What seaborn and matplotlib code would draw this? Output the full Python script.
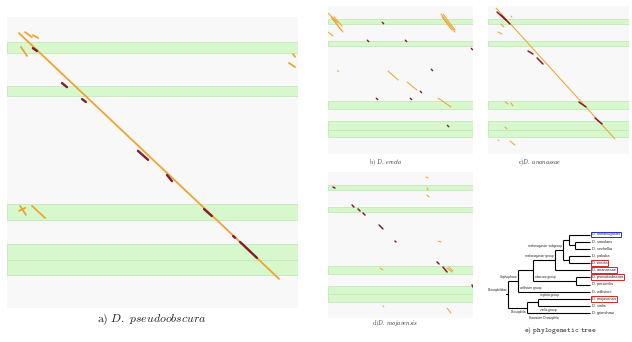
import matplotlib
matplotlib.use("Agg")
import matplotlib.pyplot as plt
import pandas as pd
import seaborn as sns

# ---------------------------------------------------------------------------
# Data
# ---------------------------------------------------------------------------
# Highlighted regions on the D. melanogaster axis (% of sequence length)
bands = [(8.6, 12.4), (23.7, 27.1), (64.3, 69.8), (78.0, 83.5), (83.5, 88.7)]

# Alignment hits (x0, y0, x1, y1) in % of query / reference length
a_matches = [
    (4.1, 5.5, 93.5, 90.0),
    (6.2, 5.2, 8.6, 6.9),
    (8.9, 6.2, 10.7, 7.2),
    (4.8, 10.3, 6.9, 13.4),
    (98.3, 12.7, 99.0, 13.7),
    (96.9, 15.8, 99.0, 17.2),
    (4.5, 64.9, 6.5, 68.0),
    (4.2, 66.6, 6.3, 65.6),
    (8.6, 64.9, 13.1, 69.1),
]
a_anchors = [
    (8.9, 10.7, 10.3, 11.7),
    (18.9, 22.7, 20.6, 24.1),
    (25.8, 28.2, 27.1, 29.2),
    (45.0, 46.0, 48.5, 49.1),
    (55.0, 54.3, 56.7, 56.4),
    (67.7, 66.0, 70.4, 68.4),
    (77.7, 75.3, 78.4, 75.9),
    (80.1, 77.3, 85.9, 82.8),
]

b_matches = [
    (0.0, 4.7, 6.9, 11.5),
    (2.1, 7.4, 9.0, 16.2),
    (3.4, 8.8, 10.3, 17.6),
    (4.1, 7.4, 9.7, 13.5),
    (0.0, 17.6, 3.4, 20.3),
    (77.9, 5.4, 87.6, 17.6),
    (78.6, 7.4, 85.5, 16.2),
    (79.3, 5.4, 87.6, 16.2),
    (41.4, 43.9, 48.3, 50.0),
    (54.5, 51.4, 61.4, 56.8),
    (75.9, 62.2, 84.8, 68.2),
    (6.6, 43.6, 7.3, 44.3),
]
b_anchors = [
    (37.4, 11.0, 38.4, 12.0),
    (27.1, 23.1, 28.1, 24.1),
    (53.3, 23.1, 54.3, 24.1),
    (98.8, 28.6, 99.8, 29.6),
    (71.2, 42.7, 72.2, 43.7),
    (63.6, 57.6, 64.6, 58.6),
    (33.3, 62.3, 34.3, 63.3),
    (56.7, 62.3, 57.7, 63.3),
    (82.3, 80.6, 83.3, 81.6),
]

c_matches = [
    (5.7, 1.4, 90.1, 89.9),
    (16.3, 6.8, 16.9, 7.4),
    (9.2, 12.2, 11.3, 14.2),
    (7.1, 17.6, 9.9, 18.9),
    (12.1, 64.9, 14.2, 66.2),
    (16.3, 65.5, 17.7, 67.6),
    (12.1, 81.8, 13.5, 83.1),
    (7.1, 90.5, 7.7, 91.0),
    (15.6, 91.2, 19.1, 93.9),
]
c_anchors = [
    (6.4, 4.1, 12.8, 9.5),
    (9.2, 6.1, 15.6, 12.2),
    (28.4, 30.4, 31.9, 32.4),
    (34.8, 35.1, 39.0, 39.2),
    (64.5, 64.9, 69.5, 68.2),
    (75.9, 75.7, 80.9, 79.7),
]

d_matches = [
    (67.6, 3.4, 69.0, 4.1),
    (68.3, 11.0, 69.0, 12.3),
    (68.3, 15.8, 69.7, 17.1),
    (75.9, 47.3, 77.9, 47.9),
    (35.9, 65.8, 37.9, 67.1),
    (82.1, 65.8, 85.5, 68.5),
    (83.4, 65.1, 86.2, 67.8),
    (37.9, 91.8, 38.5, 92.3),
    (82.1, 93.2, 84.8, 96.6),
]
d_anchors = [
    (3.4, 10.3, 4.8, 11.0),
    (16.6, 22.6, 17.9, 24.0),
    (20.7, 25.3, 22.1, 26.7),
    (24.1, 28.1, 25.5, 29.5),
    (35.2, 36.3, 37.9, 39.0),
    (46.2, 47.3, 46.9, 47.9),
    (75.2, 61.6, 76.6, 63.0),
    (79.3, 65.1, 82.1, 68.5),
    (99.3, 77.4, 100.0, 78.8),
]

# Phylogeny: leaves top to bottom, internal nodes (name, age, children)
tree_leaves = [
    "D. melanogaster", "D. simulans", "D. sechellia", "D. yakuba", "D. erecta",
    "D. ananassae", "D. pseudoobscura", "D. persimilis", "D. willistoni",
    "D. mojavensis", "D. virilis", "D. grimshawi",
]
tree_nodes = [
    ("sim_sec", 15, ["D. simulans", "D. sechellia"]),
    ("mel_sim", 21, ["D. melanogaster", "sim_sec"]),
    ("yak_ere", 21, ["D. yakuba", "D. erecta"]),
    ("mel_subgroup", 27, ["mel_sim", "yak_ere"]),
    ("mel_group", 35, ["mel_subgroup", "D. ananassae"]),
    ("obscura", 14, ["D. pseudoobscura", "D. persimilis"]),
    ("soph_core", 57, ["mel_group", "obscura"]),
    ("sophophora", 72, ["soph_core", "D. willistoni"]),
    ("moj_vir", 52, ["D. mojavensis", "D. virilis"]),
    ("drosophila", 63, ["moj_vir", "D. grimshawi"]),
    ("root", 82, ["sophophora", "drosophila"]),
]
# (text, clade, alignment, side)
clade_labels = [
    ("melanogaster subgroup", "mel_subgroup", "end", "above"),
    ("melanogaster group", "mel_group", "end", "above"),
    ("obscura group", "obscura", "start", "above"),
    ("Sophophora", "sophophora", "end", "above"),
    ("willistoni group", "D. willistoni", "start", "above"),
    ("Drosophilidae", "root", "end", "above"),
    ("repleta group", "D. mojavensis", "start", "above"),
    ("virilis group", "D. virilis", "start", "below"),
    ("Drosophila", "drosophila", "end", "below"),
    ("Hawaiian Drosophila", "D. grimshawi", "start", "below"),
]
boxed = {
    "D. melanogaster": "#2b2bd6",
    "D. erecta": "#d42626",
    "D. ananassae": "#d42626",
    "D. pseudoobscura": "#d42626",
    "D. mojavensis": "#d42626",
}

# ---------------------------------------------------------------------------
# Style
# ---------------------------------------------------------------------------
sns.set_theme(style="white")
plt.rcParams["mathtext.fontset"] = "cm"
plt.rcParams["font.family"] = ["Liberation Sans", "DejaVu Sans"]

BG = "#f8f8f8"
GREEN = "#d6f8cc"
GREEN_EDGE = "#c4e8ba"
ORANGE = "#f1a332"
DARK = "#821c30"

W, H = 632, 342
fig = plt.figure(figsize=(W / 100, H / 100), dpi=100)
fig.patch.set_facecolor("white")


def px_axes(x, y, w, h):
    return fig.add_axes([x / W, 1 - (y + h) / H, w / W, h / H])


def hits_frame(hits):
    rows = []
    for i, (x0, y0, x1, y1) in enumerate(hits):
        rows.append((i, x0, y0))
        rows.append((i, x1, y1))
    return pd.DataFrame(rows, columns=["hit", "x", "y"])


def dotplot(ax, matches, anchors, lw_match, lw_anchor):
    ax.set_facecolor(BG)
    for y0, y1 in bands:
        ax.axhspan(y0, y1, facecolor=GREEN, edgecolor=GREEN_EDGE,
                   linewidth=0.6, zorder=0)
    sns.lineplot(data=hits_frame(matches), x="x", y="y", units="hit",
                 estimator=None, sort=False, color=ORANGE,
                 linewidth=lw_match, ax=ax, legend=False)
    sns.lineplot(data=hits_frame(anchors), x="x", y="y", units="hit",
                 estimator=None, sort=False, color=DARK,
                 linewidth=lw_anchor, ax=ax, legend=False)
    ax.set_xlim(0, 100)
    ax.set_ylim(100, 0)
    ax.set_xticks([])
    ax.set_yticks([])
    ax.set_xlabel("")
    ax.set_ylabel("")
    for s in ax.spines.values():
        s.set_visible(False)


ax_a = px_axes(7, 17, 291, 291)
dotplot(ax_a, a_matches, a_anchors, 1.3, 1.7)
ax_b = px_axes(328, 6, 145, 148)
dotplot(ax_b, b_matches, b_anchors, 0.75, 1.0)
ax_c = px_axes(488, 6, 141, 148)
dotplot(ax_c, c_matches, c_anchors, 0.75, 1.1)
ax_d = px_axes(328, 172, 145, 146)
dotplot(ax_d, d_matches, d_anchors, 0.75, 1.1)

# ---------------------------------------------------------------------------
# Phylogenetic tree
# ---------------------------------------------------------------------------
ax_t = px_axes(480, 225, 152, 97)
ax_t.set_axis_off()
pos = {name: (0.0, float(i)) for i, name in enumerate(tree_leaves)}
parent = {}
for name, age, children in tree_nodes:
    ys = [pos[c][1] for c in children]
    pos[name] = (float(age), (min(ys) + max(ys)) / 2)
    for c in children:
        parent[c] = name

for name, age, children in tree_nodes:
    ys = [pos[c][1] for c in children]
    ax_t.plot([age, age], [min(ys), max(ys)], color="black", lw=0.8,
              solid_capstyle="butt")
    for c in children:
        ax_t.plot([age, pos[c][0]], [pos[c][1], pos[c][1]], color="black",
                  lw=0.8, solid_capstyle="butt")
root_age, root_y = pos["root"]
ax_t.plot([root_age + 2, root_age], [root_y, root_y], color="black", lw=0.8)

for name in tree_leaves:
    x, y = pos[name]
    kw = {}
    if name in boxed:
        kw["bbox"] = dict(boxstyle="square,pad=0.25", fc="white",
                          ec=boxed[name], lw=0.7)
    ax_t.text(x - 1.8, y, name, fontsize=2.8, ha="left", va="center", **kw)

for text, clade, align, side in clade_labels:
    x, y = pos[clade]
    dy = -0.3 if side == "above" else 0.35
    va = "bottom" if side == "above" else "top"
    if align == "end":
        ax_t.text(x + 1, y + dy, text, fontsize=2.3, ha="right", va=va)
    else:
        px_ = pos[parent[clade]][0]
        ax_t.text(px_ - 2, y + dy, text, fontsize=2.3, ha="left", va=va)

ax_t.set_xlim(110, -42)
ax_t.set_ylim(12.25, -1.33)

# ---------------------------------------------------------------------------
# Captions
# ---------------------------------------------------------------------------
def caption(x, y, s, size):
    fig.text(x / W, 1 - y / H, s, fontsize=size, ha="center", va="center",
             color="#222222")


caption(152, 320, r"$\mathrm{a)}\ \mathit{D.\ pseudoobscura}$", 8.5)
caption(386, 163, r"$\mathrm{b)}\ \mathit{D.\ erecta}$", 4.2)
caption(540, 163, r"$\mathrm{c)}\mathit{D.\ ananassae}$", 4.2)
caption(395, 324, r"$\mathrm{d)}\mathit{D.\ mojavensis}$", 4.2)
caption(560, 331, r"$\mathtt{e)\ phylogenetic\ tree}$", 5.2)

fig.savefig("out.png", dpi=100, facecolor="white")
